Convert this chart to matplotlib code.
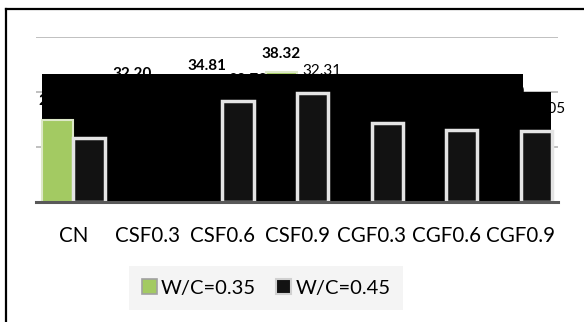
import numpy as np
import matplotlib
matplotlib.use("Agg")
import matplotlib.pyplot as plt
from matplotlib.patches import Rectangle, Patch
from matplotlib.lines import Line2D

plt.rcParams['font.family'] = ['Lato', 'DejaVu Sans']

categories = ['CN', 'CSF0.3', 'CSF0.6', 'CSF0.9', 'CGF0.3', 'CGF0.6', 'CGF0.9']
wc_035 = [24.20, 32.20, 34.81, 38.32, 27.50, 26.40, 27.00]
wc_045 = [19.00, 26.50, 29.73, 32.31, 23.40, 21.20, 21.05]
series_names = ['W/C=0.35', 'W/C=0.45']

# bars that render in front of the dark block
front_035 = [True, False, False, False, False, False, False]
front_045 = [True, False, True, True, True, True, True]

YMAX = 48.7
W = 0.42

fig = plt.figure(figsize=(5.84, 3.22), dpi=100)
ax = fig.add_axes([36 / 584, 120 / 322, 522 / 584, 164.7 / 322])

x = np.arange(len(categories))
b1 = ax.bar(x - W / 2, wc_035, W, color='#a3ca62', edgecolor='#dde8c8', linewidth=1.5)
b2 = ax.bar(x + W / 2, wc_045, W, color='#121212', edgecolor='#e4e4e4', linewidth=2.5)
for bars, front in ((b1, front_035), (b2, front_045)):
    for p, f in zip(bars, front):
        p.set_zorder(3 if f else 1)

for xi, v in zip(x, wc_035):
    ax.annotate(f'{v:.2f}', (xi - W / 2, v), xytext=(0, 13.5), textcoords='offset points',
                ha='center', va='center', fontsize=11, fontweight='bold',
                zorder=1.5, annotation_clip=False)
for xi, v in zip(x, wc_045):
    ax.annotate(f'{v:.2f}', (xi + W / 2, v), xytext=(7, 15.5), textcoords='offset points',
                ha='center', va='center', fontsize=11,
                zorder=1.5, annotation_clip=False)

# dark block over the plot body
ax.add_patch(Rectangle((6 / 522, 0), 481 / 522, 128 / 164.7, transform=ax.transAxes,
                       facecolor='black', edgecolor='none', zorder=2, clip_on=False))
ax.add_patch(Rectangle((487 / 522, 0), 28 / 522, 110 / 164.7, transform=ax.transAxes,
                       facecolor='black', edgecolor='none', zorder=2, clip_on=False))

ax.set_xlim(-0.5, len(categories) - 0.5)
ax.set_ylim(0, YMAX)
ax.set_yticks(np.linspace(0, YMAX, 4))
ax.yaxis.grid(True, color='#b5b5b5', linewidth=1.2)
ax.set_axisbelow(True)
ax.tick_params(axis='y', left=False, labelleft=False)
ax.tick_params(axis='x', bottom=False, pad=14, labelsize=14.8)
ax.set_xticks(x)
ax.set_xticklabels(categories)
for s in ('left', 'right', 'top'):
    ax.spines[s].set_visible(False)
ax.spines['bottom'].set_color('#595959')
ax.spines['bottom'].set_linewidth(2.2)
ax.spines['bottom'].set_zorder(4)

handles = [Patch(facecolor='#a3ca62', edgecolor='#a0a0a0', linewidth=1.2),
           Patch(facecolor='#121212', edgecolor='#d0d0d0', linewidth=1.5)]
leg = fig.legend(handles, series_names, loc='center', bbox_to_anchor=(266 / 584, 1 - 288 / 322),
                 ncol=2, fontsize=14.5, frameon=True, fancybox=False, handlelength=0.75,
                 handleheight=0.75, handletextpad=0.2, columnspacing=1.0, borderpad=0.65)
leg.get_frame().set_facecolor('#f2f2f2')
leg.get_frame().set_edgecolor('none')

# outer chart frame
fig.add_artist(Line2D([6 / 584, 6 / 584], [0, 1 - 9 / 322], color='black', linewidth=1.6))
fig.add_artist(Line2D([6 / 584, 1], [1 - 9 / 322, 1 - 9 / 322], color='black', linewidth=1.6))

fig.savefig('out.png', dpi=100)
